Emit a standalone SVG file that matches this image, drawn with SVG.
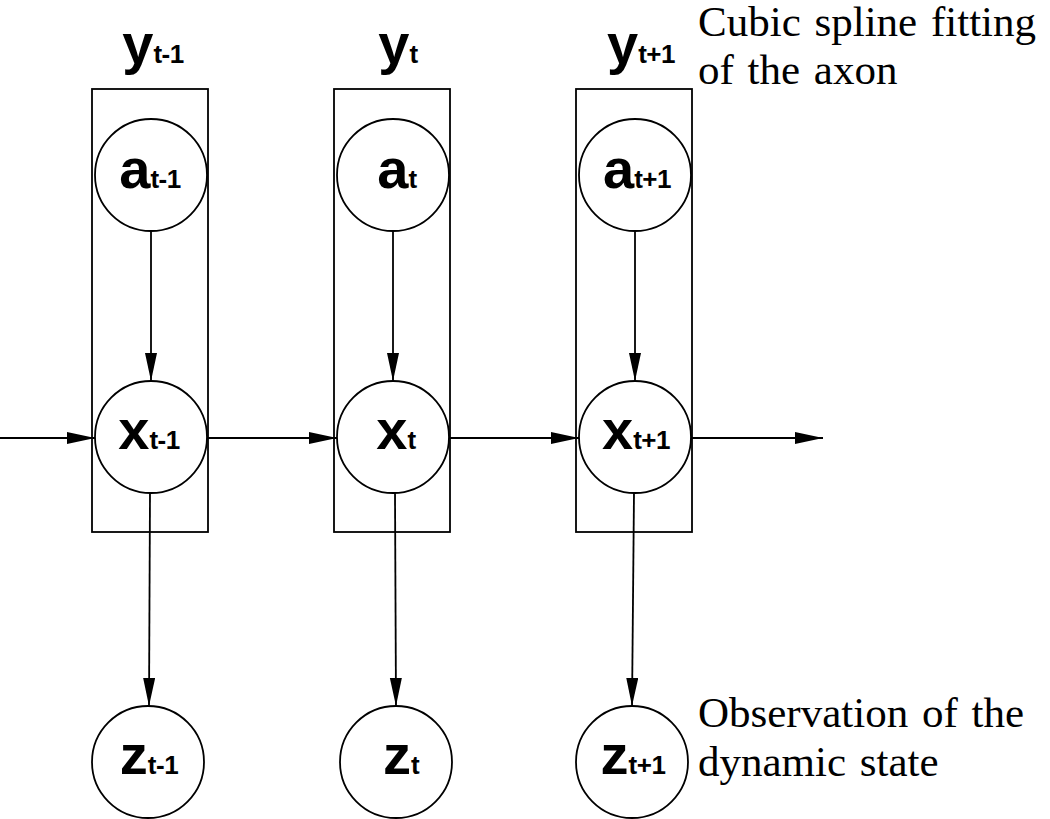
<svg xmlns="http://www.w3.org/2000/svg" width="1050" height="819" viewBox="0 0 1050 819">
<style>
.plate{fill:none;stroke:#000;stroke-width:1.8}
.node{fill:#fff;stroke:#000;stroke-width:1.8}
.edge{fill:none;stroke:#000;stroke-width:1.8}
.lbl{font-family:"Liberation Sans",Arial,sans-serif;font-weight:bold;font-size:56px;fill:#000;text-anchor:middle}
.sub{font-size:26px;letter-spacing:-0.5px}
.note{font-family:"Liberation Serif","Times New Roman",serif;font-size:43px;fill:#000;word-spacing:3px}
</style>
<defs>
<marker id="arr" markerUnits="userSpaceOnUse" markerWidth="29" markerHeight="13" refX="28" refY="6" orient="auto">
<path d="M0,0 L28,6 L0,12 z" fill="#000"/>
</marker>
</defs>
<rect width="1050" height="819" fill="#fff"/>
<g id="plates">
<rect class="plate" x="92" y="89" width="116" height="443"/>
<rect class="plate" x="334" y="89" width="116" height="443"/>
<rect class="plate" x="576" y="89" width="116" height="443"/>
</g>
<g id="connectors">
<line class="edge" x1="151" y1="231" x2="151" y2="381" marker-end="url(#arr)"/>
<line class="edge" x1="393" y1="231" x2="393" y2="381" marker-end="url(#arr)"/>
<line class="edge" x1="635" y1="231" x2="635" y2="381" marker-end="url(#arr)"/>
<line class="edge" x1="150" y1="493" x2="149" y2="706" marker-end="url(#arr)"/>
<line class="edge" x1="395" y1="493" x2="396" y2="706" marker-end="url(#arr)"/>
<line class="edge" x1="634" y1="493" x2="632" y2="706" marker-end="url(#arr)"/>
<line class="edge" x1="0" y1="438" x2="95" y2="438" marker-end="url(#arr)"/>
<line class="edge" x1="207" y1="438" x2="337" y2="438" marker-end="url(#arr)"/>
<line class="edge" x1="449" y1="438" x2="579" y2="438" marker-end="url(#arr)"/>
<line class="edge" x1="691" y1="438" x2="823" y2="438" marker-end="url(#arr)"/>
</g>
<g id="y_tm1"><text class="lbl" x="153" y="63">y<tspan class="sub">t-1</tspan></text></g>
<g id="y_t"><text class="lbl" x="398" y="63">y<tspan class="sub">t</tspan></text></g>
<g id="y_tp1"><text class="lbl" x="641" y="63">y<tspan class="sub">t+1</tspan></text></g>
<g id="a_tm1"><circle class="node" cx="151" cy="175" r="56"/><text class="lbl" x="150" y="188">a<tspan class="sub">t-1</tspan></text></g>
<g id="a_t"><circle class="node" cx="393" cy="175" r="56"/><text class="lbl" x="397" y="188">a<tspan class="sub">t</tspan></text></g>
<g id="a_tp1"><circle class="node" cx="635" cy="175" r="56"/><text class="lbl" x="637" y="188">a<tspan class="sub">t+1</tspan></text></g>
<g id="x_tm1"><circle class="node" cx="151" cy="437" r="56"/><text class="lbl" x="149" y="449">x<tspan class="sub">t-1</tspan></text></g>
<g id="x_t"><circle class="node" cx="393" cy="437" r="56"/><text class="lbl" x="396" y="449">x<tspan class="sub">t</tspan></text></g>
<g id="x_tp1"><circle class="node" cx="635" cy="437" r="56"/><text class="lbl" x="636" y="449">x<tspan class="sub">t+1</tspan></text></g>
<g id="z_tm1"><circle class="node" cx="148" cy="762" r="56"/><text class="lbl" x="149" y="774">z<tspan class="sub">t-1</tspan></text></g>
<g id="z_t"><circle class="node" cx="396" cy="762" r="56"/><text class="lbl" x="401" y="774">z<tspan class="sub">t</tspan></text></g>
<g id="z_tp1"><circle class="node" cx="632" cy="762" r="56"/><text class="lbl" x="633" y="774">z<tspan class="sub">t+1</tspan></text></g>
<g id="notes">
<text class="note" x="698" y="36">Cubic spline fitting</text>
<text class="note" x="698" y="84">of the axon</text>
<text class="note" x="698" y="727">Observation of the</text>
<text class="note" x="698" y="776">dynamic state</text>
</g>
</svg>
